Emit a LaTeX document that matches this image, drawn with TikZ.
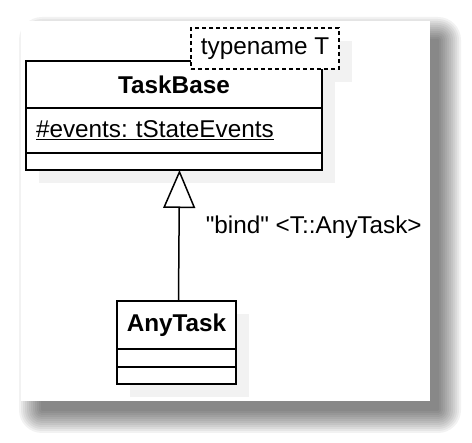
\documentclass[tikz,border=0pt]{standalone}
\usepackage{fontspec}
\setmainfont{Liberation Sans}
\usetikzlibrary{positioning,arrows.meta}
\pgfdeclarelayer{background}
\pgfdeclarelayer{shade}
\pgfsetlayers{background,shade,main}

\tikzset{
	uml/.style={draw, fill=white, line width=1.5pt, outer sep=0pt, inner sep=0pt,
		font=\fontsize{24.3}{29}\selectfont},
	umltitle/.style={uml, font=\fontsize{24.3}{29}\selectfont\bfseries},
	umlattr/.style={uml, inner xsep=10pt, text width=276pt, align=left},
	lbl/.style={inner sep=0pt, font=\fontsize{24.3}{29}\selectfont},
	realize/.style={line width=1.5pt, -{Triangle[open, fill=white, length=38pt, width=32pt]}}
}

\begin{document}
\frenchspacing
\begin{tikzpicture}[x=1pt, y=-1pt]
			\useasboundingbox (0,0) rectangle (472,443);
			
			% 1. Trang nền và bóng đổ
			\begin{pgfonlayer}{background}
				\foreach \r in {1,3,...,23}
				\fill[black, opacity=0.05, rounded corners=\r] (42-\r,40-\r) rectangle (438+\r,410+\r);
				\fill[white] (21,21) rectangle (430,401);
			\end{pgfonlayer}
			
			% 2. Lớp TaskBase
			\node[umltitle, minimum width=296, minimum height=47] (taskbase) at (174,84.5) {TaskBase};
			\node[umlattr, minimum height=45, below=0pt of taskbase] (baseattr) {\underline{\#events: tStateEvents}};
			\node[uml, minimum width=296, minimum height=17, below=0pt of baseattr] (baseops) {};
			
			% 3. Tham số mẫu
			\node[uml, dash pattern=on 4pt off 3pt, minimum width=148, minimum height=41] (typename) at (265,48.5) {typename T};
			
			% 4. Lớp AnyTask
			\node[umltitle, minimum width=119, minimum height=48] (anytask) at (176.5,325) {AnyTask};
			\node[uml, minimum width=119, minimum height=18, below=0pt of anytask] (taskattr) {};
			\node[uml, minimum width=119, minimum height=17, below=0pt of taskattr] (taskops) {};
			
			% 5. Bóng của các hộp
			\begin{pgfonlayer}{shade}
				\foreach \n in {taskbase,baseattr,baseops,typename,anytask,taskattr,taskops}
				\fill[black!5] ([shift={(13,13)}]\n.north west) rectangle ([shift={(13,13)}]\n.south east);
			\end{pgfonlayer}
			
			% 6. Quan hệ bind
			\draw[realize] ([xshift=2]anytask.north) -- ([xshift=3]anytask.north |- baseops.south)
			node[lbl, pos=0.56, right=26pt] (bindlbl) {\textquotedbl bind\textquotedbl{} <T::AnyTask>};
			
		\end{tikzpicture}
\end{document}
